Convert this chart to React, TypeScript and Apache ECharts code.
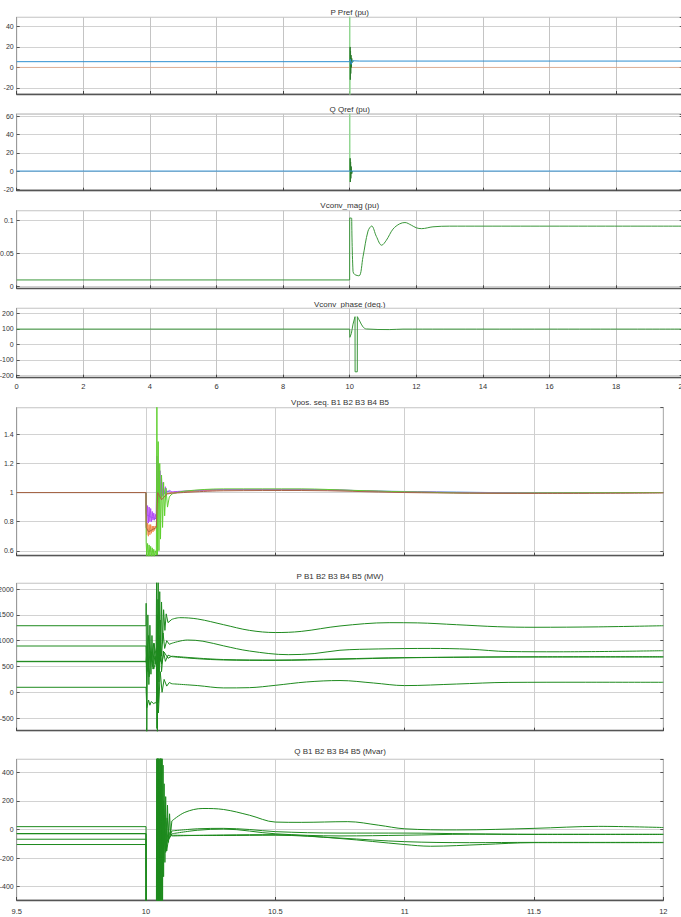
import React, { useEffect, useRef } from 'react';
import * as echarts from 'echarts';

const FONT = 'Liberation Sans, Arial, sans-serif';

// ---------- titles ----------
const TITLES: [string, number, number][] = [
  ['P Pref (pu)', 349.7, 12.5],
  ['Q Qref (pu)', 349.7, 109.3],
  ['Vconv_mag (pu)', 349.7, 205.5],
  ['Vconv_phase (deg.)', 349.7, 304],
  ['Vpos. seq. B1 B2 B3 B4 B5', 340, 402],
  ['P B1 B2 B3 B4 B5 (MW)', 340, 576],
  ['Q B1 B2 B3 B4 B5 (Mvar)', 340, 751.5],
];

// ---------- top figure (t = 0..20 s) ----------
const pMeas = [[0, 5.6], [10, 5.6], [10.02, 8], [10.04, 3], [10.08, 6.5], [10.3, 6.2], [20, 6.2]];
const pRef = [[0, 0], [20, 0]];
const pSpikeLight = [[10, 5.6], [10.002, 55], [10.006, -30], [10.01, 6]];
const pSpikeDark = [[10.01, 6], [10.013, 20], [10.018, -12], [10.025, 16], [10.032, -6], [10.04, 12], [10.05, 0], [10.06, 9], [10.08, 5], [10.12, 6.2]];

const qMeas = [[0, 0], [20, 0]];
const qSpikeLight = [[10, 0], [10.002, 65], [10.006, -12], [10.01, 0]];
const qSpikeDark = [[10.01, 0], [10.014, 14], [10.02, -12], [10.027, 10], [10.034, -8], [10.045, 5], [10.06, -3], [10.08, 0]];

const vMag = [
  [0, 0.0097], [9.999, 0.0097], [10.0, 0.104], [10.06, 0.1035], [10.1, 0.0225], [10.15, 0.018],
  [10.28, 0.016], [10.4, 0.045], [10.55, 0.084], [10.66, 0.0917], [10.8, 0.076], [10.96, 0.0625],
  [11.1, 0.07], [11.3, 0.087], [11.5, 0.095], [11.66, 0.097], [11.85, 0.093], [12.0, 0.089],
  [12.16, 0.0877], [12.5, 0.0905], [13, 0.0915], [20, 0.0915],
];

const vPhase = [
  [0, 98], [10, 98], [10.005, 45], [10.05, 70], [10.1, 130], [10.16, 178], [10.162, -177],
  [10.228, -177], [10.23, 178], [10.3, 150], [10.4, 112], [10.5, 99], [11.2, 95], [11.6, 98], [20, 98],
];

// ---------- bottom figure (t = 9.5..12 s) ----------
const vB1 = [[9.5, 1], [10, 1], [10.0005, 0.85], [10.02, 0.83], [10.04, 0.82], [10.045, 1.1], [10.06, 0.97], [10.08, 1.01], [10.1, 1.0], [10.3, 1.02], [10.6, 1.021], [10.9, 1.01], [11.2, 1.003], [11.5, 0.998], [12, 1.0]];
const vB2 = [[9.5, 1], [10, 1], [10.0005, 0.8], [10.003, 0.71], [10.006, 0.79], [10.009, 0.7], [10.012, 0.78], [10.015, 0.71], [10.018, 0.78], [10.021, 0.72], [10.024, 0.77], [10.027, 0.73], [10.03, 0.77], [10.033, 0.74], [10.036, 0.77], [10.04, 0.76], [10.043, 1.08], [10.047, 0.93], [10.052, 1.05], [10.058, 0.96], [10.065, 1.02], [10.075, 0.99], [10.1, 1.0], [10.3, 1.018], [10.6, 1.02], [11, 1.004], [11.5, 0.997], [12, 1.0]];
const vB3 = [[9.5, 1], [10, 1], [10.0005, 0.76], [10.01, 0.73], [10.02, 0.74], [10.03, 0.75], [10.04, 0.76], [10.045, 1.0], [10.06, 0.95], [10.08, 0.99], [10.1, 0.995], [10.3, 1.012], [10.6, 1.014], [11, 1.0], [11.5, 0.994], [12, 0.997]];
const vB4 = [[9.5, 1], [10, 1], [10.0005, 0.92], [10.003, 0.79], [10.006, 0.91], [10.009, 0.79], [10.012, 0.9], [10.015, 0.8], [10.018, 0.89], [10.021, 0.8], [10.024, 0.87], [10.027, 0.81], [10.03, 0.86], [10.033, 0.81], [10.036, 0.85], [10.039, 0.82], [10.042, 1.25], [10.045, 0.94], [10.048, 1.2], [10.051, 0.96], [10.054, 1.15], [10.057, 0.97], [10.06, 1.1], [10.063, 0.98], [10.066, 1.07], [10.07, 0.99], [10.075, 1.04], [10.08, 1.0], [10.09, 1.015], [10.1, 1.005], [10.3, 1.021], [10.6, 1.022], [11, 1.004], [11.5, 0.998], [12, 1.0]];
const vB5 = [[9.5, 1], [10, 1], [10.0005, 0.66], [10.003, 0.56], [10.006, 0.65], [10.009, 0.56], [10.012, 0.64], [10.015, 0.56], [10.018, 0.63], [10.021, 0.56], [10.024, 0.62], [10.027, 0.56], [10.03, 0.61], [10.033, 0.56], [10.036, 0.6], [10.04, 0.57], [10.042, 1.65], [10.044, 0.57], [10.047, 1.35], [10.05, 0.6], [10.053, 1.2], [10.056, 0.68], [10.06, 1.12], [10.064, 0.76], [10.068, 1.07], [10.072, 0.84], [10.077, 1.03], [10.083, 0.9], [10.09, 0.97], [10.1, 0.99], [10.15, 1.01], [10.3, 1.025], [10.6, 1.025], [10.8, 1.015], [11, 1.005], [11.3, 0.996], [11.6, 0.998], [12, 1.0]];

const pB1 = [[9.5, 1290], [10, 1290], [10.0005, 1725], [10.003, -800], [10.007, 1500], [10.011, 150], [10.015, 1300], [10.019, 350], [10.023, 1100], [10.027, 450], [10.031, 950], [10.035, 550], [10.039, 800], [10.041, 2300], [10.044, -800], [10.047, 2150], [10.05, 200], [10.053, 1950], [10.056, 600], [10.06, 1750], [10.064, 950], [10.068, 1600], [10.073, 1200], [10.078, 1520], [10.085, 1350], [10.1, 1414], [10.13, 1446], [10.2, 1420], [10.3, 1310], [10.4, 1200], [10.5, 1158], [10.6, 1180], [10.75, 1285], [10.94, 1349], [11.05, 1345], [11.2, 1310], [11.36, 1271], [11.5, 1260], [11.75, 1268], [12, 1290]];
const pB2 = [[9.5, 897], [10, 897], [10.002, 300], [10.01, 1100], [10.02, 600], [10.03, 950], [10.04, 700], [10.042, -700], [10.046, 1800], [10.05, 400], [10.055, 1400], [10.06, 700], [10.066, 1150], [10.072, 850], [10.08, 1000], [10.09, 930], [10.1, 950], [10.16, 1013], [10.22, 990], [10.3, 900], [10.4, 800], [10.55, 729], [10.65, 750], [10.75, 815], [10.9, 840], [11.1, 850], [11.25, 835], [11.4, 790], [11.6, 785], [12, 806]];
const pB3 = [[9.5, 593], [10, 593], [10.005, 900], [10.012, 300], [10.02, 750], [10.03, 450], [10.04, 650], [10.043, 1500], [10.048, -200], [10.054, 1100], [10.06, 400], [10.067, 800], [10.075, 600], [10.085, 720], [10.1, 690], [10.2, 650], [10.3, 626], [10.5, 618], [10.75, 640], [11, 668], [11.5, 688], [12, 690]];
const pB4 = [[9.5, 600], [10, 600], [10.008, 400], [10.016, 800], [10.025, 500], [10.035, 700], [10.045, 300], [10.052, 1000], [10.06, 550], [10.07, 780], [10.085, 660], [10.1, 700], [10.3, 635], [10.5, 625], [10.75, 648], [11, 672], [11.5, 684], [12, 684]];
const pB5 = [[9.5, 97], [10, 97], [10.003, -300], [10.01, -150], [10.015, -250], [10.02, -180], [10.03, -220], [10.035, -200], [10.04, -210], [10.043, 600], [10.048, -400], [10.055, 400], [10.062, 0], [10.07, 250], [10.08, 120], [10.09, 190], [10.1, 165], [10.2, 130], [10.3, 85], [10.4, 90], [10.5, 135], [10.62, 200], [10.75, 228], [10.88, 180], [11.0, 130], [11.2, 160], [11.4, 192], [11.7, 195], [12, 194]];

const qB1 = [[9.5, 20], [10, 20], [10.0005, -700], [10.04, -700], [10.0415, 700], [10.043, -700], [10.0445, 700], [10.046, -700], [10.0475, 700], [10.049, -700], [10.0505, 700], [10.052, -700], [10.0535, 700], [10.055, -700], [10.0565, 700], [10.058, -700], [10.0595, 700], [10.061, -650], [10.0625, 600], [10.064, -500], [10.066, 450], [10.068, -330], [10.07, 320], [10.073, -230], [10.076, 230], [10.079, -150], [10.083, 170], [10.087, -90], [10.091, 110], [10.095, -30], [10.1, 60], [10.15, 120], [10.22, 147], [10.3, 140], [10.4, 100], [10.5, 52], [10.6, 50], [10.78, 55], [10.9, 30], [11, 5], [11.2, -3], [11.5, 8], [11.75, 22], [12, 14]];
const qB2 = [[9.5, -28], [10, -28], [10.0005, -700], [10.041, -700], [10.044, 600], [10.05, -600], [10.056, 500], [10.062, -400], [10.068, 200], [10.075, -150], [10.082, 80], [10.09, -60], [10.1, -10], [10.2, 5], [10.3, 8], [10.4, 0], [10.5, -15], [10.75, -25], [11, -25], [11.25, -30], [11.5, -33], [12, -33]];
const qB3 = [[9.5, -30], [10, -30], [10.0005, -700], [10.043, -700], [10.047, 500], [10.053, -500], [10.06, 300], [10.067, -250], [10.075, 100], [10.085, -80], [10.1, -30], [10.2, -5], [10.3, 3], [10.5, -30], [10.75, -45], [11, -40], [11.25, -33], [11.5, -35], [12, -35]];
const qB4 = [[9.5, -68], [10, -68], [10.0005, -700], [10.044, -700], [10.05, 400], [10.058, -400], [10.066, 150], [10.076, -160], [10.088, -20], [10.1, -40], [10.3, -42], [10.5, -40], [10.75, -60], [11, -85], [11.25, -92], [11.5, -90], [12, -90]];
const qB5 = [[9.5, -105], [10, -105], [10.0005, -700], [10.045, -700], [10.052, 350], [10.06, -350], [10.07, 100], [10.08, -150], [10.09, -30], [10.1, -45], [10.3, -38], [10.5, -36], [10.75, -63], [11, -105], [11.1, -117], [11.3, -105], [11.5, -92], [12, -92]];

// ---------- layout ----------
const GRIDS = [
  { left: 16.7, top: 17.3, width: 666, height: 76.7 },
  { left: 16.7, top: 114, width: 666, height: 76.7 },
  { left: 16.7, top: 210.7, width: 666, height: 77.6 },
  { left: 16.7, top: 308.3, width: 666, height: 69.4 },
  { left: 16.7, top: 407.7, width: 646.6, height: 148 },
  { left: 16.7, top: 583.3, width: 646.6, height: 147.4 },
  { left: 16.7, top: 759.3, width: 646.6, height: 140.7 },
];
// [min, max, interval]
const YR: [number, number, number][] = [
  [-26, 49, 20],
  [-21.5, 62.5, 20],
  [-0.003, 0.115, 0.05],
  [-215, 232, 100],
  [0.566, 1.583, 0.2],
  [-744, 2112, 500],
  [-493, 491, 200],
];

const plain = (v: number) => String(Number(Number(v).toPrecision(10)));

const mkY = (i: number, right: boolean) => {
  const [min, max, iv] = YR[i];
  return {
    type: 'value', gridIndex: i, min, max, minInterval: iv, maxInterval: iv,
    splitNumber: Math.max(1, Math.round((max - min) / iv)),
    position: right ? 'right' : 'left',
    axisLine: { show: true, onZero: false, lineStyle: { color: right ? '#b4b4b4' : '#9a9a9a', width: 1 } },
    axisTick: { show: true, inside: true, length: 3, lineStyle: { color: '#555' } },
    axisLabel: {
      show: !right, fontSize: 7, color: '#333', margin: 3, formatter: plain,
      showMinLabel: false, showMaxLabel: false, fontFamily: FONT,
    },
    splitLine: { show: !right, lineStyle: { color: '#d2d2d2', width: 1 } },
  };
};

const mkX = (i: number) => {
  const top = i < 4;
  const showLabel = i === 3 || i === 6;
  return {
    type: 'value', gridIndex: i,
    min: top ? 0 : 9.5, max: top ? 20 : 12, interval: top ? 2 : 0.5,
    axisLine: { show: true, onZero: false, lineStyle: { color: '#555', width: 1.3 } },
    axisTick: { show: true, inside: true, length: 3, lineStyle: { color: '#444' } },
    axisLabel: { show: showLabel, fontSize: 7.5, color: '#333', margin: top ? 5 : 7, fontFamily: FONT, formatter: plain },
    splitLine: { show: true, lineStyle: { color: top ? '#c4c4c4' : '#cfcfcf', width: 1 } },
  };
};

const ln = (data: number[][], i: number, color: string, width = 1, smooth: number | boolean = false) => ({
  type: 'line', data, xAxisIndex: i, yAxisIndex: i, symbol: 'none', showSymbol: false, smooth,
  lineStyle: { color, width }, clip: true, silent: true, animation: false,
});

// fast transient drawn straight, slow recovery drawn as a smooth curve
const two = (data: number[][], t0: number, i: number, color: string) => [
  ln(data.filter((p) => p[0] <= t0), i, color),
  ln(data.filter((p) => p[0] >= t0), i, color, 1, 0.35),
];

const BLUE = '#2f8fd0';
const TOPGREEN = '#3a963a';
const DARKGREEN = '#1e8a1e';

export default function App() {
  const ref = useRef<HTMLDivElement>(null);
  useEffect(() => {
    const chart = echarts.init(ref.current!, null, { renderer: 'svg' });
    const option: any = {
      animation: false,
      backgroundColor: '#ffffff',
      grid: GRIDS.map((g) => ({ ...g, show: true, borderColor: '#b0b0b0', borderWidth: 1, containLabel: false, outerBoundsMode: 'none' })),
      xAxis: GRIDS.map((_, i) => mkX(i)),
      yAxis: [...GRIDS.map((_, i) => mkY(i, false)), ...GRIDS.map((_, i) => mkY(i, true))],
      graphic: TITLES.map(([text, x, y]) => ({
        type: 'text', x, y, silent: true,
        style: { text, fontSize: 8, fill: '#333', align: 'center', verticalAlign: 'middle', fontFamily: FONT },
      })),
      series: [
        ln(pRef, 0, 'rgba(236,150,100,0.55)'),
        ln(pSpikeLight, 0, '#8fd88f'),
        ln(pSpikeDark, 0, '#2a7a2a'),
        ln(pMeas, 0, BLUE),
        ln(qSpikeLight, 1, '#8fd88f'),
        ln(qSpikeDark, 1, '#2a7a2a'),
        ln(qMeas, 1, BLUE),
        ...two(vMag, 10.06, 2, TOPGREEN),
        ...two(vPhase, 10.23, 3, TOPGREEN),
        ...two(vB1, 10.1, 4, '#4a86d8'),
        ...two(vB2, 10.1, 4, '#f08a4b'),
        ...two(vB4, 10.1, 4, '#b44cf5'),
        ...two(vB5, 10.1, 4, '#5fcf2f'),
        ...two(vB3, 10.1, 4, '#a8634a'),
        ...two(pB1, 10.1, 5, DARKGREEN),
        ...two(pB2, 10.1, 5, DARKGREEN),
        ...two(pB3, 10.1, 5, DARKGREEN),
        ...two(pB4, 10.1, 5, DARKGREEN),
        ...two(pB5, 10.1, 5, DARKGREEN),
        ...two(qB1, 10.1, 6, DARKGREEN),
        ...two(qB2, 10.1, 6, DARKGREEN),
        ...two(qB3, 10.1, 6, DARKGREEN),
        ...two(qB4, 10.1, 6, DARKGREEN),
        ...two(qB5, 10.1, 6, DARKGREEN),
      ],
    };
    chart.setOption(option);
    return () => chart.dispose();
  }, []);
  return (
    <div style={{ position: 'absolute', left: 0, top: 0, width: 681, height: 917, background: '#fff', overflow: 'hidden' }}>
      <div ref={ref} style={{ width: 681, height: 917 }} />
    </div>
  );
}
